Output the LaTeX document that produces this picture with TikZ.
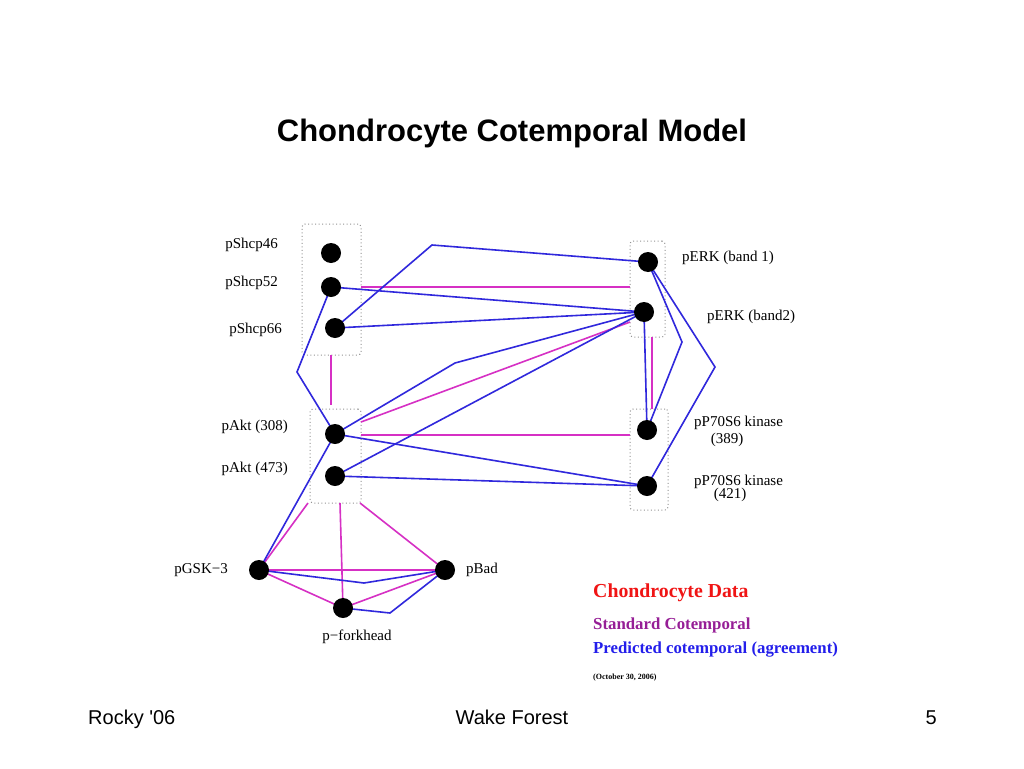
\documentclass[tikz,border=0pt]{standalone}
\usepackage{fontspec}
\setmainfont{Liberation Serif}
\newfontfamily\arialf{Liberation Sans}
\begin{document}
\begin{tikzpicture}[x=1pt,y=-1pt,
  dot/.style={circle,fill=black,inner sep=0pt,minimum size=20pt},
  lbl/.style={font=\fontsize{15}{16}\selectfont,inner sep=0pt},
  grp/.style={draw=gray!85,line width=1pt,dash pattern=on 1pt off 2.5pt,rounded corners=3pt,inner sep=0pt},
  stdc/.style={draw={rgb,255:red,214;green,48;blue,196},line width=1.6pt},
  pred/.style={draw={rgb,255:red,48;green,40;blue,220},line width=1.6pt},
  foot/.style={font=\arialf\fontsize{20}{22}\selectfont,inner sep=0pt},
  leg/.style={font=\bfseries\fontsize{16.8}{18}\selectfont,anchor=west,inner sep=0pt}]
\useasboundingbox (0,0) rectangle (1024,768);
\fill[white] (0,0) rectangle (1024,768);

% title and footer
\node[font=\arialf\bfseries\fontsize{31}{34}\selectfont,inner sep=0pt] (title) at (512,133) {Chondrocyte Cotemporal Model};
\node[foot,anchor=base west] (fl) at (88,724) {Rocky '06};
\node[foot,anchor=base] (fc) at (512,724) {Wake Forest};
\node[foot,anchor=base east] (fr) at (937,724) {5};

% group boxes
\node[grp,minimum width=59pt,minimum height=131pt] (box1) at (331.5,289.5) {};
\node[grp,minimum width=51pt,minimum height=94pt] (box2) at (335.5,456) {};
\node[grp,minimum width=35pt,minimum height=96pt] (box3) at (647.5,289) {};
\node[grp,minimum width=38pt,minimum height=101pt] (box4) at (649,459.5) {};

% coordinates
\coordinate (s46) at (331,253);
\coordinate (s52) at (331,287);
\coordinate (s66) at (335,328);
\coordinate (a308) at (335,434);
\coordinate (a473) at (335,476);
\coordinate (e1) at (648,262);
\coordinate (e2) at (644,312);
\coordinate (p389) at (647,430);
\coordinate (p421) at (647,486);
\coordinate (gsk) at (259,570);
\coordinate (bad) at (445,570);
\coordinate (fork) at (343,608);

\coordinate (m1a) at (361,287);  \coordinate (m1b) at (630,287);
\coordinate (m2a) at (331,355);  \coordinate (m2b) at (331,405);
\coordinate (m3a) at (361,422);  \coordinate (m3b) at (630,322);
\coordinate (m4a) at (361,435);  \coordinate (m4b) at (630,435);
\coordinate (m5a) at (652,337);  \coordinate (m5b) at (652,409);
\coordinate (m6) at (308,503);
\coordinate (m7) at (340,503);
\coordinate (m8) at (360,503);

\coordinate (b1) at (432,245);
\coordinate (b2) at (297,372);
\coordinate (b3) at (455,363);
\coordinate (b4) at (682,342);
\coordinate (b5) at (715,367);
\coordinate (b6) at (364,583);
\coordinate (b7) at (390,613);

% standard cotemporal (magenta)
\draw[stdc] (m1a) -- (m1b);
\draw[stdc] (m2a) -- (m2b);
\draw[stdc] (m3a) -- (m3b);
\draw[stdc] (m4a) -- (m4b);
\draw[stdc] (m5a) -- (m5b);
\draw[stdc] (m6) -- (gsk);
\draw[stdc] (m7) -- (fork);
\draw[stdc] (m8) -- (bad);
\draw[stdc] (gsk) -- (bad);
\draw[stdc] (gsk) -- (fork);
\draw[stdc] (fork) -- (bad);

% predicted cotemporal (blue)
\draw[pred] (s52) -- (e2);
\draw[pred] (s66) -- (e2);
\draw[pred] (s66) -- (b1) -- (e1);
\draw[pred] (s52) -- (b2) -- (a308);
\draw[pred] (a308) -- (gsk);
\draw[pred] (a308) -- (b3) -- (e2);
\draw[pred] (a473) -- (e2);
\draw[pred] (a308) -- (p421);
\draw[pred] (a473) -- (p421);
\draw[pred] (e2) -- (p389);
\draw[pred] (e1) -- (b4) -- (p389);
\draw[pred] (e1) -- (b5) -- (p421);
\draw[pred] (gsk) -- (b6) -- (bad);
\draw[pred] (fork) -- (b7) -- (bad);

% nodes
\node[dot] (n46) at (s46) {};
\node[dot] (n52) at (s52) {};
\node[dot] (n66) at (s66) {};
\node[dot] (n308) at (a308) {};
\node[dot] (n473) at (a473) {};
\node[dot] (ne1) at (e1) {};
\node[dot] (ne2) at (e2) {};
\node[dot] (n389) at (p389) {};
\node[dot] (n421) at (p421) {};
\node[dot] (ngsk) at (gsk) {};
\node[dot] (nbad) at (bad) {};
\node[dot] (nfork) at (fork) {};

% labels
\node[lbl,anchor=east] (l46) at (278,245) {pShcp46};
\node[lbl,anchor=east] (l52) at (278,283) {pShcp52};
\node[lbl,anchor=east] (l66) at (282,330) {pShcp66};
\node[lbl,anchor=east] (l308) at (288,427) {pAkt (308)};
\node[lbl,anchor=east] (l473) at (288,469) {pAkt (473)};
\node[lbl,anchor=west] (le1) at (682,258) {pERK (band 1)};
\node[lbl,anchor=west] (le2) at (707,317) {pERK (band2)};
\node[lbl,anchor=west] (l389a) at (694,423) {pP70S6 kinase};
\node[lbl] (l389b) at (727,440) {(389)};
\node[lbl,anchor=west] (l421a) at (694,482) {pP70S6 kinase};
\node[lbl] (l421b) at (730,495) {(421)};
\node[lbl,anchor=east] (lgsk) at (228,570) {pGSK{\char"2212}3};
\node[lbl,anchor=west] (lbad) at (466,570) {pBad};
\node[lbl] (lfork) at (357,637) {p{\char"2212}forkhead};

% legend
\node[leg,text={rgb,255:red,240;green,20;blue,20},font=\bfseries\fontsize{19.8}{21}\selectfont] (lg1) at (593,593) {Chondrocyte Data};
\node[leg,text={rgb,255:red,150;green,30;blue,150}] (lg2) at (593,625) {Standard Cotemporal};
\node[leg,text={rgb,255:red,35;green,30;blue,235}] (lg3) at (593,650) {Predicted cotemporal (agreement)};
\node[leg,font=\bfseries\fontsize{8}{9}\selectfont] (lg4) at (593,678) {(October 30, 2006)};
\end{tikzpicture}
\end{document}
